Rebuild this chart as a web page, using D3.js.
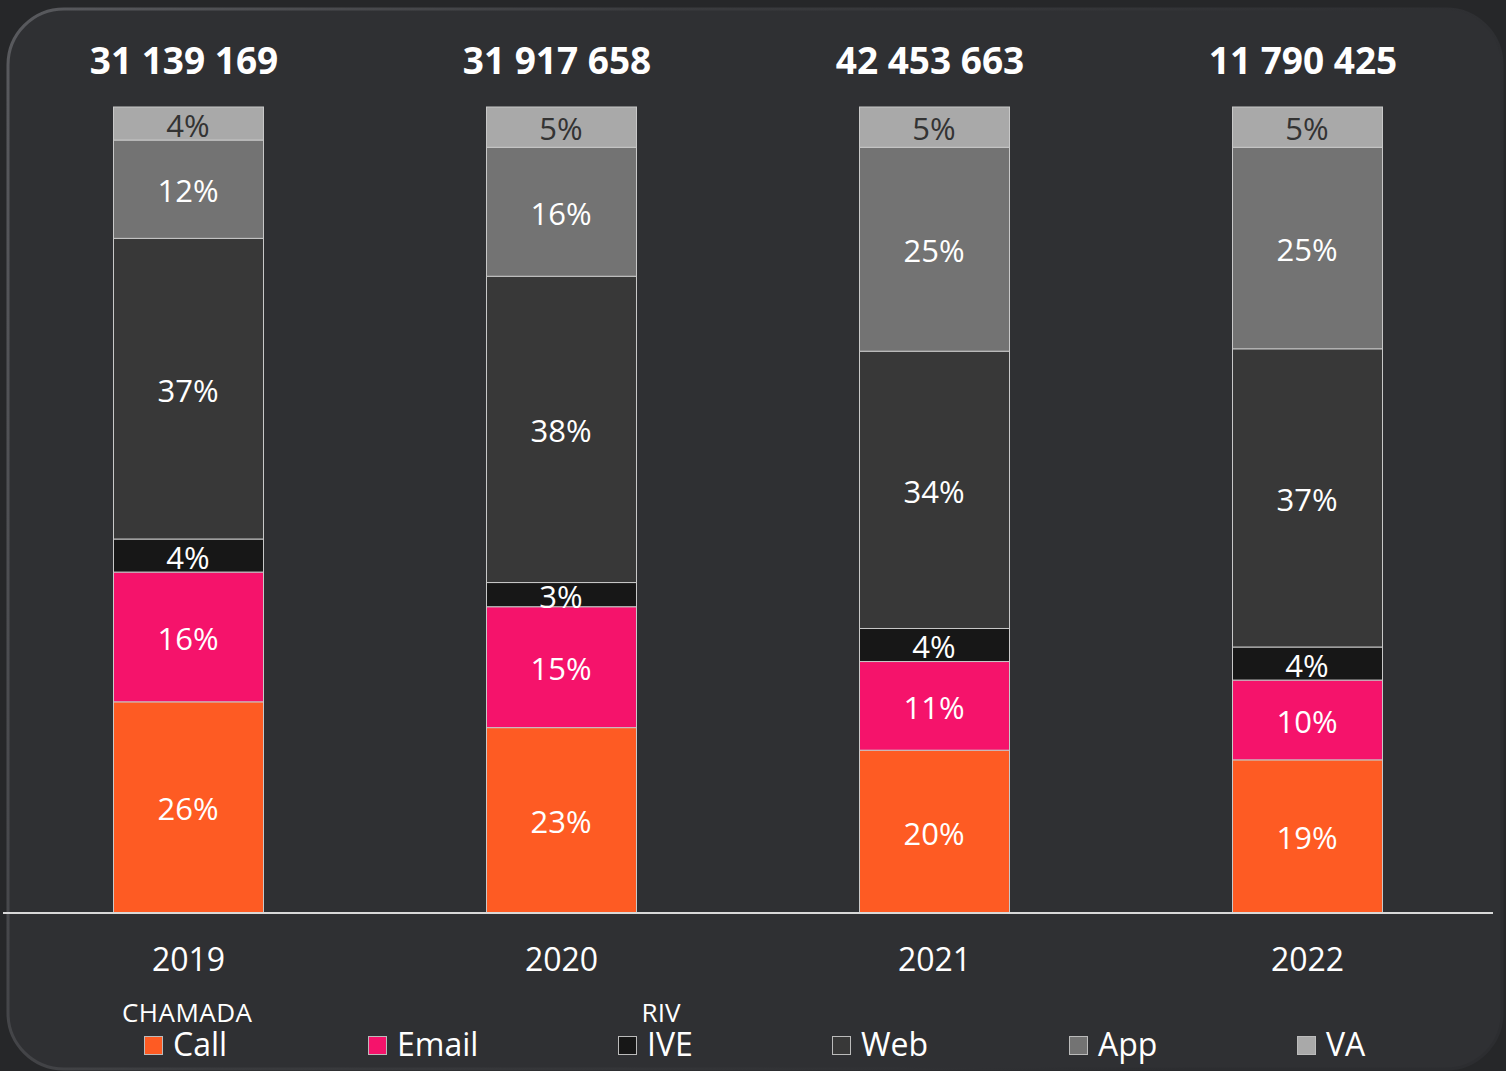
<!DOCTYPE html>
<html><head><meta charset="utf-8">
<script src="https://cdn.jsdelivr.net/npm/d3@7"></script>
<style>html,body{margin:0;padding:0;background:#262729;overflow:hidden}</style>
</head><body>
<svg id="c" width="1506" height="1071"></svg>
<script>
// ---- data ----
const years = ["2019", "2020", "2021", "2022"];
const totals = ["31 139 169", "31 917 658", "42 453 663", "11 790 425"];
const seriesNames = ["Call", "Email", "IVE", "Web", "App", "VA"];
const call  = [26.2, 23.0, 20.2, 19.0];
const email = [16.1, 15.0, 11.0, 9.9];
const ive   = [4.1, 3.0, 4.1, 4.1];
const web   = [37.3, 38.0, 34.4, 37.0];
const app   = [12.2, 16.0, 25.3, 25.0];
const va    = [4.1, 5.0, 5.0, 5.0];
const pctLabels = {
  Call: ["26%", "23%", "20%", "19%"],
  Email: ["16%", "15%", "11%", "10%"],
  IVE: ["4%", "3%", "4%", "4%"],
  Web: ["37%", "38%", "34%", "37%"],
  App: ["12%", "16%", "25%", "25%"],
  VA: ["4%", "5%", "5%", "5%"]
};
const legendHeaders = {Call: "CHAMADA", IVE: "RIV"};

// ---- styles / layout ----
const colors = {Call: "#fe5b23", Email: "#f5136b", IVE: "#171717", Web: "#383838", App: "#737373", VA: "#a9a9a9"};
const labelColors = {Call: "#fff", Email: "#fff", IVE: "#fff", Web: "#fff", App: "#fff", VA: "#333"};
const legendX = [144, 368, 618, 832, 1069, 1297];
const font = "'Open Sans', 'Noto Sans', sans-serif";

const table = years.map((y, i) => ({year: y, Call: call[i], Email: email[i], IVE: ive[i], Web: web[i], App: app[i], VA: va[i]}));
const stacked = d3.stack().keys(seriesNames)(table);

const svg = d3.select("#c");
const W = 1506, H = 1071;

// panel
const defs = svg.append("defs");
const g1 = defs.append("linearGradient").attr("id", "rim").attr("x1", 0).attr("y1", 0).attr("x2", 1).attr("y2", 0.3);
g1.append("stop").attr("offset", "0%").attr("stop-color", "#595a5e");
g1.append("stop").attr("offset", "40%").attr("stop-color", "#3a3b3e");
g1.append("stop").attr("offset", "100%").attr("stop-color", "#2c2d30");
svg.append("rect").attr("width", W).attr("height", H).attr("fill", "#262729");
svg.append("rect").attr("x", 8).attr("y", 9).attr("width", 1494).attr("height", 1060)
  .attr("rx", 56).attr("ry", 56).attr("fill", "#2f3033")
  .attr("stroke", "url(#rim)").attr("stroke-width", 3);

const xc = d3.scalePoint().domain(years).range([188, 1307]);
const barW = 150;
const y = d3.scaleLinear().domain([0, 100]).range([913, 107]);

const layers = svg.append("g").selectAll("g").data(stacked).join("g")
  .attr("fill", d => colors[d.key]);
layers.selectAll("rect").data(d => d.map(v => Object.assign(v, {key: d.key}))).join("rect")
  .attr("x", d => xc(d.data.year) - barW / 2 + 0.5)
  .attr("width", barW)
  .attr("y", d => y(d[1]))
  .attr("height", d => y(d[0]) - y(d[1]))
  .attr("stroke", "#c8c8c8").attr("stroke-width", 1);

// percent labels
stacked.forEach(s => {
  svg.append("g").selectAll("text").data(s).join("text")
    .attr("x", d => xc(d.data.year))
    .attr("y", d => (y(d[0]) + y(d[1])) / 2)
    .attr("dy", "0.42em")
    .attr("text-anchor", "middle")
    .attr("fill", labelColors[s.key])
    .attr("font-family", font).attr("font-size", 31)
    .text((d, i) => pctLabels[s.key][i]);
});

// totals
svg.append("g").selectAll("text").data(years).join("text")
  .attr("x", d => xc(d) - 4).attr("y", 74)
  .attr("text-anchor", "middle").attr("fill", "#fff")
  .attr("font-family", font).attr("font-weight", "bold").attr("font-size", 37)
  .text((d, i) => totals[i]);

// axis
const axis = svg.append("g").attr("transform", "translate(0,913)")
  .call(d3.axisBottom(xc).tickSize(0).tickPadding(0));
axis.select(".domain").remove();
axis.append("line").attr("x1", 3).attr("x2", 1493).attr("stroke", "#d9d9d9").attr("stroke-width", 2);
axis.selectAll(".tick text").attr("y", 58).attr("dy", 0)
  .attr("fill", "#fff").attr("font-family", font).attr("font-size", 32);

// legend
const lg = svg.append("g").selectAll("g").data(seriesNames).join("g")
  .attr("transform", (d, i) => `translate(${legendX[i]},0)`);
lg.append("rect").attr("x", 0.5).attr("y", 1036.5).attr("width", 18).attr("height", 18)
  .attr("fill", d => colors[d]).attr("stroke", "#bbb").attr("stroke-width", 1);
lg.append("text").attr("x", 29).attr("y", 1056)
  .attr("fill", "#fff").attr("font-family", font).attr("font-size", 32)
  .text(d => d);
lg.filter(d => legendHeaders[d]).append("text")
  .attr("x", d => d === "Call" ? 43 : 43).attr("y", 1022)
  .attr("text-anchor", "middle")
  .attr("fill", "#fff").attr("font-family", font).attr("font-size", 26)
  .attr("textLength", d => d === "Call" ? 130 : null)
  .text(d => legendHeaders[d]);
</script>
</body></html>
